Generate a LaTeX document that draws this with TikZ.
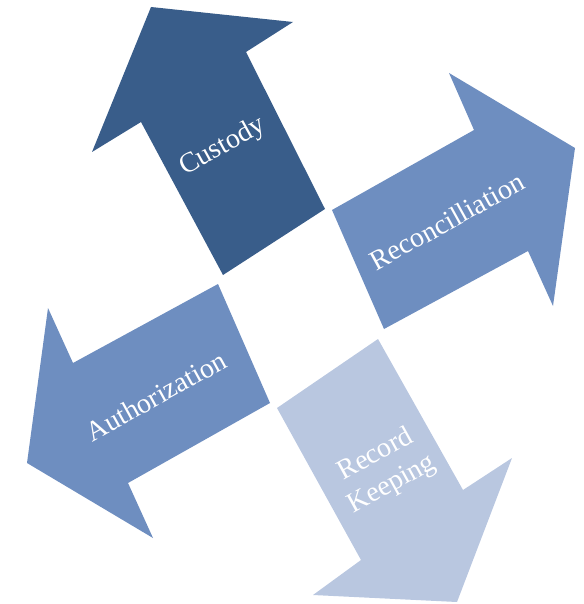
\documentclass[tikz,border=0pt]{standalone}
\usepackage{fontspec}
\setmainfont{Liberation Serif}
\usetikzlibrary{positioning}

\begin{document}
\begin{tikzpicture}[
    x = 0.02cm, y = -0.02cm,
    dark/.style = {fill = {rgb,255:red,57;green,93;blue,138}},
    mid/.style = {fill = {rgb,255:red,110;green,142;blue,192}},
    light/.style = {fill = {rgb,255:red,185;green,199;blue,224}},
    label/.style = {text = white, font = \fontsize{16}{19}\selectfont, rotate = 29, align = center},
    ]
    \useasboundingbox (0, 0) rectangle (583, 604);

    % arrows
    \path[dark] (151, 7) -- (293, 22) -- (246, 52) -- (325, 209) -- (223, 275) -- (141, 122) -- (92, 152) -- cycle;
    \path[mid] (575, 148) -- (553, 306) -- (528, 251) -- (384, 329) -- (332, 210) -- (474, 130) -- (449, 73) -- cycle;
    \path[mid] (27, 463) -- (48, 308) -- (73, 363) -- (218, 284) -- (270, 403) -- (128, 483) -- (153, 538) -- cycle;
    \path[light] (457, 602) -- (313, 595) -- (361, 560) -- (277, 408) -- (378, 339) -- (463, 490) -- (512, 458) -- cycle;

    % labels
    \node[label] (cust) at (223, 147) {Custody};
    \node[label] (reco) at (447, 221) {Reconcilliation};
    \node[label] (auth) at (156, 396) {Authorization};
    \node[label] (keep) at (384, 470) {Record\\Keeping};
\end{tikzpicture}
\end{document}
